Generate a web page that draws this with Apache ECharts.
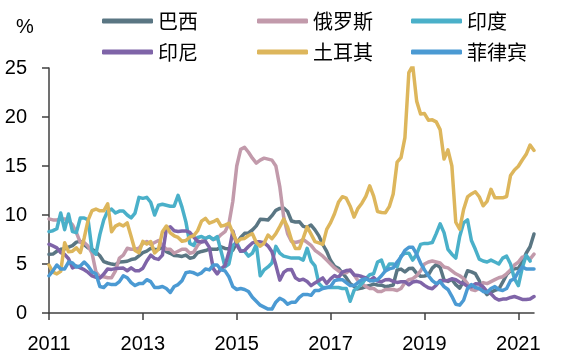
<!DOCTYPE html>
<html>
<head>
<meta charset="utf-8">
<script src="https://cdn.jsdelivr.net/npm/echarts@6/dist/echarts.min.js"></script>
<style>
html,body{margin:0;padding:0;background:#fff;}
#chart{width:564px;height:359px;}
</style>
</head>
<body>
<div id="chart"></div>
<script>
// Month categories: Jan 2011 .. May 2021
const months = [];
for (let y = 2011; y <= 2021; y++) {
  for (let m = 1; m <= 12; m++) {
    if (y === 2021 && m > 5) break;
    months.push(y + '-' + (m < 10 ? '0' + m : m));
  }
}
const tickYears = ['2011', '2013', '2015', '2017', '2019', '2021'];
const seriesNames = ['巴西', '俄罗斯', '印度', '印尼', '土耳其', '菲律宾'];

const brazil = [
  5.99, 6.01, 6.30, 6.51, 6.55, 6.71, 6.87, 7.23, 7.31, 6.97, 6.64, 6.50,
  6.22, 5.85, 5.24, 5.10, 4.99, 4.92, 5.20, 5.24, 5.28, 5.45, 5.53, 5.84,
  6.15, 6.31, 6.59, 6.49, 6.50, 6.70, 6.27, 6.09, 5.86, 5.84, 5.77, 5.91,
  5.59, 5.68, 6.15, 6.28, 6.37, 6.52, 6.50, 6.51, 6.75, 6.59, 6.56, 6.41,
  7.14, 7.70, 8.13, 8.17, 8.47, 8.89, 9.56, 9.53, 9.49, 9.93, 10.48, 10.67,
  10.71, 10.36, 9.39, 9.28, 9.32, 8.84, 8.74, 8.97, 8.48, 7.87, 6.99, 6.29,
  5.35, 4.76, 4.57, 4.08, 3.60, 3.00, 2.71, 2.46, 2.54, 2.70, 2.80, 2.95,
  2.86, 2.84, 2.68, 2.76, 2.86, 4.39, 4.48, 4.19, 4.53, 4.56, 4.05, 3.75,
  3.78, 3.89, 4.58, 4.94, 4.66, 3.37, 3.22, 3.43, 2.89, 2.54, 3.27, 4.31,
  4.19, 4.01, 3.30, 2.40, 1.88, 2.13, 2.31, 2.44, 3.14, 3.92, 4.31, 4.52,
  4.56, 5.20, 6.10, 6.76, 8.06
];
const russia = [
  9.6, 9.5, 9.5, 9.6, 9.6, 9.4, 9.0, 8.2, 7.2, 7.2, 6.8, 6.1,
  4.2, 3.7, 3.7, 3.6, 3.6, 4.3, 5.6, 5.9, 6.6, 6.5, 6.5, 6.6,
  7.1, 7.3, 7.0, 7.2, 7.4, 6.9, 6.5, 6.5, 6.1, 6.3, 6.5, 6.5,
  6.1, 6.2, 6.9, 7.3, 7.6, 7.8, 7.5, 7.6, 8.0, 8.3, 9.1, 11.4,
  15.0, 16.7, 16.9, 16.4, 15.8, 15.3, 15.6, 15.8, 15.7, 15.6, 15.0, 12.9,
  9.8, 8.1, 7.3, 7.2, 7.3, 7.5, 7.2, 6.9, 6.4, 6.1, 5.8, 5.4,
  5.0, 4.6, 4.3, 4.1, 4.1, 4.4, 3.9, 3.3, 3.0, 2.7, 2.5, 2.5,
  2.2, 2.2, 2.4, 2.4, 2.4, 2.3, 2.5, 3.1, 3.4, 3.5, 3.8, 4.3,
  5.0, 5.2, 5.3, 5.2, 5.1, 4.7, 4.6, 4.3, 4.0, 3.8, 3.5, 3.0,
  2.4, 2.3, 2.5, 3.1, 3.0, 3.2, 3.4, 3.6, 3.7, 4.0, 4.4, 4.9,
  5.2, 5.7, 5.8, 5.5, 6.0
];
const india = [
  8.3, 8.4, 8.6, 10.2, 8.5, 10.1, 8.3, 8.2, 9.7, 9.7, 9.5, 6.4,
  6.0, 8.0, 9.5, 10.4, 10.6, 10.2, 10.4, 10.4, 10.0, 9.7, 10.2, 11.8,
  11.7, 11.8, 11.3, 10.0, 11.0, 11.1, 11.0, 10.9, 10.9, 12.0, 10.8, 9.3,
  7.1, 6.9, 7.7, 7.8, 7.6, 7.8, 7.5, 7.8, 6.3, 4.7, 5.0, 6.9,
  7.2, 6.3, 6.3, 5.8, 6.1, 7.0, 3.8, 4.4, 4.7, 5.1, 6.8, 6.1,
  5.8, 5.7, 5.6, 5.6, 5.6, 5.4, 6.6, 5.3, 4.8, 3.0, 2.6, 2.6,
  2.6, 2.6, 2.6, 2.5, 2.5, 1.2, 2.3, 2.6, 3.0, 3.5, 3.9, 4.0,
  5.2, 5.4, 4.3, 5.0, 5.0, 4.7, 5.8, 6.1, 6.1, 5.4, 6.0, 7.0,
  7.1, 7.1, 7.2, 8.1, 9.1, 8.2, 6.5, 6.0, 5.6, 7.8, 9.2, 9.5,
  7.4, 6.5, 5.5, 5.3, 5.2, 5.4, 5.2, 5.0, 5.6, 5.8, 5.0, 3.5,
  2.8, 4.6, 5.9, 5.3, null
];
const indonesia = [
  7.02, 6.84, 6.65, 6.16, 5.98, 5.54, 4.61, 4.79, 4.61, 4.42, 4.15, 3.79,
  3.65, 3.56, 3.97, 4.50, 4.45, 4.53, 4.56, 4.58, 4.31, 4.61, 4.32, 4.30,
  4.57, 5.31, 5.90, 5.57, 5.47, 5.90, 8.61, 8.79, 8.40, 8.32, 8.37, 8.38,
  8.22, 7.75, 7.32, 7.25, 7.32, 6.70, 4.53, 3.99, 4.53, 4.83, 6.23, 8.36,
  6.96, 6.29, 6.38, 6.79, 7.15, 7.26, 7.26, 7.18, 6.83, 6.25, 4.89, 3.35,
  4.14, 4.42, 4.45, 3.60, 3.33, 3.45, 3.21, 2.79, 3.07, 3.31, 3.58, 3.02,
  3.49, 3.83, 3.61, 4.17, 4.33, 4.37, 3.88, 3.82, 3.72, 3.58, 3.30, 3.61,
  3.25, 3.18, 3.40, 3.41, 3.23, 3.12, 3.18, 3.20, 2.88, 3.16, 3.23, 3.13,
  2.82, 2.57, 2.48, 2.83, 3.32, 3.28, 3.32, 3.49, 3.39, 3.13, 3.00, 2.72,
  2.68, 2.98, 2.96, 2.67, 2.19, 1.96, 1.54, 1.32, 1.42, 1.44, 1.59, 1.68,
  1.55, 1.38, 1.37, 1.42, 1.68
];
const turkey = [
  4.90, 4.16, 3.99, 4.26, 7.17, 6.24, 6.31, 6.65, 6.15, 7.66, 9.48, 10.45,
  10.61, 10.43, 10.43, 11.14, 8.28, 8.87, 9.07, 8.88, 9.19, 7.80, 6.37, 6.16,
  7.31, 7.03, 7.29, 6.13, 6.51, 8.30, 8.88, 8.17, 7.88, 7.71, 7.32, 7.40,
  7.75, 7.89, 8.39, 9.38, 9.66, 9.16, 9.32, 9.54, 8.86, 8.96, 9.15, 8.17,
  7.24, 7.55, 7.61, 7.91, 8.09, 7.20, 6.81, 7.14, 7.95, 7.58, 8.10, 8.81,
  9.58, 8.78, 7.46, 6.57, 6.58, 7.64, 8.79, 8.05, 7.28, 7.16, 7.00, 8.53,
  9.22, 10.13, 11.29, 11.87, 11.72, 10.90, 9.79, 10.68, 11.20, 11.90, 12.98, 11.92,
  10.35, 10.26, 10.23, 10.85, 12.15, 15.39, 15.85, 17.90, 24.52, 25.24, 21.62, 20.30,
  20.35, 19.67, 19.71, 19.50, 18.71, 15.72, 16.65, 15.01, 9.26, 8.55, 10.56, 11.84,
  12.15, 12.37, 11.86, 10.94, 11.39, 12.62, 11.76, 11.77, 11.75, 11.89, 14.03, 14.60,
  14.97, 15.61, 16.19, 17.14, 16.59
];
const philippines = [
  3.8, 4.3, 4.9, 4.5, 4.5, 5.2, 5.1, 4.7, 4.8, 5.2, 4.8, 4.2,
  4.0, 2.7, 2.6, 3.0, 2.9, 2.9, 3.2, 3.8, 3.6, 3.1, 2.8, 3.0,
  3.0, 3.4, 3.2, 2.6, 2.6, 2.7, 2.5, 2.1, 2.7, 2.9, 3.3, 4.1,
  4.2, 4.1, 3.9, 4.1, 4.5, 4.4, 4.9, 4.9, 4.4, 4.3, 3.7, 2.7,
  2.4, 2.5, 2.4, 2.2, 1.6, 1.2, 0.8, 0.6, 0.4, 0.4, 1.1, 1.5,
  1.3, 0.9, 1.1, 1.1, 1.6, 1.9, 1.9, 1.8, 2.3, 2.3, 2.5, 2.6,
  2.7, 3.3, 3.4, 3.4, 3.1, 2.8, 2.8, 3.1, 3.4, 3.5, 3.3, 3.3,
  3.4, 3.8, 4.3, 4.5, 4.6, 5.2, 5.7, 6.4, 6.7, 6.7, 6.0, 5.1,
  4.4, 3.8, 3.3, 3.0, 3.2, 2.7, 2.4, 1.7, 0.9, 0.8, 1.3, 2.5,
  2.9, 2.6, 2.5, 2.2, 2.1, 2.5, 2.7, 2.4, 2.3, 2.5, 3.3, 3.5,
  4.2, 4.7, 4.5, 4.5, 4.5
];

const colors = ['#5a7683', '#c29aab', '#4ab0c9', '#7f64a8', '#ddb65c', '#4b9ad3'];
const dataList = [brazil, russia, india, indonesia, turkey, philippines];

const chart = echarts.init(document.getElementById('chart'), null, {renderer: 'canvas'});
const numFont = 'Liberation Sans';
const cjkFont = 'Noto Sans CJK SC';
const axisColor = '#404040';

function legendCol(left, names) {
  return {
    left: left, top: 6, orient: 'vertical', itemGap: 11,
    itemWidth: 51, itemHeight: 5, icon: 'roundRect',
    data: names,
    textStyle: {fontSize: 20, fontFamily: cjkFont, color: '#000'}
  };
}

chart.setOption({
  animation: false,
  color: colors,
  title: {
    text: '%', left: 11, top: 12,
    textStyle: {fontSize: 20, fontWeight: 'normal', fontFamily: numFont, color: '#000'}
  },
  legend: [
    legendCol(97, ['巴西', '印尼']),
    legendCol(252, ['俄罗斯', '土耳其']),
    legendCol(406, ['印度', '菲律宾'])
  ],
  grid: {left: 49, right: 30, top: 68, bottom: 46},
  xAxis: {
    type: 'category',
    data: months,
    boundaryGap: false,
    axisLine: {lineStyle: {color: axisColor, width: 1.5}},
    axisTick: {interval: 23, length: 7, lineStyle: {color: axisColor, width: 1.5}},
    axisLabel: {
      interval: 23, margin: 21, fontSize: 20, fontFamily: numFont, color: '#000',
      formatter: function (v) { const y = v.slice(0, 4); return tickYears.indexOf(y) >= 0 ? y : ''; }
    },
    splitLine: {show: false}
  },
  yAxis: {
    type: 'value', min: 0, max: 25, interval: 5,
    axisLine: {show: true, lineStyle: {color: axisColor, width: 1.5}},
    axisTick: {show: true, length: 7, lineStyle: {color: axisColor, width: 1.5}},
    axisLabel: {margin: 22, fontSize: 20, fontFamily: numFont, color: '#000'},
    splitLine: {show: false}
  },
  series: seriesNames.map(function (n, k) {
    return {
      name: n, type: 'line', data: dataList[k],
      showSymbol: false, symbol: 'none',
      lineStyle: {width: 3.5, color: colors[k], cap: 'round', join: 'round'},
      itemStyle: {color: colors[k]}
    };
  })
});
</script>
</body>
</html>
